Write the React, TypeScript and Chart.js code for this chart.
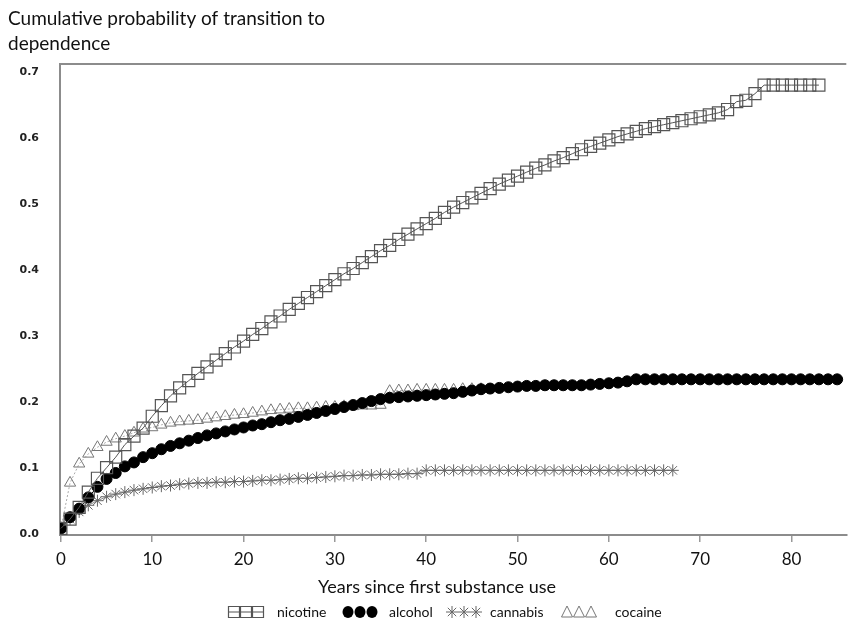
import React, { useEffect, useRef } from 'react';
import { Chart, registerables } from 'chart.js';

Chart.register(...registerables);

const TITLE_LINES = ['Cumulative probability of transition to', 'dependence'];
const X_TITLE = 'Years since first substance use';
const X_TICKS = [0, 10, 20, 30, 40, 50, 60, 70, 80];
const Y_TICKS = [0, 0.1, 0.2, 0.3, 0.4, 0.5, 0.6, 0.7];
const LEGEND_LABELS = ['nicotine', 'alcohol', 'cannabis', 'cocaine'];

// cumulative probability by year since first use (index = year, starting at 0)
const nicotine = [
  0.008, 0.022, 0.040, 0.063, 0.084, 0.100, 0.116, 0.135, 0.148, 0.160,
  0.178, 0.194, 0.209, 0.221, 0.232, 0.243, 0.253, 0.263, 0.273, 0.283,
  0.292, 0.302, 0.311, 0.321, 0.330, 0.340, 0.349, 0.358, 0.367, 0.376,
  0.385, 0.394, 0.402, 0.411, 0.420, 0.429, 0.437, 0.446, 0.454, 0.462,
  0.470, 0.478, 0.487, 0.495, 0.502, 0.509, 0.516, 0.523, 0.530, 0.536,
  0.542, 0.548, 0.554, 0.559, 0.565, 0.570, 0.576, 0.582, 0.587, 0.592,
  0.597, 0.602, 0.606, 0.610, 0.614, 0.617, 0.620, 0.623, 0.626, 0.629,
  0.632, 0.635, 0.638, 0.643, 0.655, 0.657, 0.667, 0.680, 0.680, 0.680,
  0.680, 0.680, 0.680, 0.680,
];
const alcohol = [
  0.008, 0.025, 0.038, 0.055, 0.071, 0.083, 0.092, 0.102, 0.108, 0.116,
  0.122, 0.128, 0.133, 0.137, 0.141, 0.145, 0.149, 0.152, 0.155, 0.158,
  0.161, 0.164, 0.166, 0.169, 0.172, 0.174, 0.177, 0.180, 0.183, 0.186,
  0.189, 0.192, 0.195, 0.198, 0.201, 0.204, 0.206, 0.207, 0.208, 0.209,
  0.210, 0.211, 0.212, 0.213, 0.215, 0.217, 0.219, 0.220, 0.221, 0.222,
  0.223, 0.224, 0.224, 0.225, 0.225, 0.225, 0.225, 0.225, 0.226, 0.227,
  0.228, 0.229, 0.231, 0.234, 0.234, 0.234, 0.234, 0.234, 0.234, 0.234,
  0.234, 0.234, 0.234, 0.234, 0.234, 0.234, 0.234, 0.234, 0.234, 0.234,
  0.234, 0.234, 0.234, 0.234, 0.234, 0.234,
];
const cannabis = [
  0.008, 0.022, 0.033, 0.043, 0.050, 0.056, 0.060, 0.063, 0.066, 0.068,
  0.070, 0.072, 0.073, 0.075, 0.076, 0.077, 0.077, 0.078, 0.078, 0.079,
  0.079, 0.080, 0.081, 0.081, 0.082, 0.083, 0.084, 0.084, 0.085, 0.086,
  0.087, 0.088, 0.088, 0.089, 0.089, 0.090, 0.090, 0.090, 0.091, 0.091,
  0.096, 0.096, 0.096, 0.096, 0.096, 0.096, 0.096, 0.096, 0.096, 0.096,
  0.096, 0.096, 0.096, 0.096, 0.096, 0.096, 0.096, 0.096, 0.096, 0.096,
  0.096, 0.096, 0.096, 0.096, 0.096, 0.096, 0.096, 0.096,
];
const cocaine = [
  0.008, 0.077, 0.106, 0.121, 0.131, 0.139, 0.144, 0.148, 0.153, 0.159,
  0.161, 0.165, 0.168, 0.170, 0.171, 0.172, 0.174, 0.176, 0.178, 0.180,
  0.181, 0.183, 0.185, 0.187, 0.188, 0.189, 0.190, 0.190, 0.191, 0.192,
  0.192, 0.193, 0.193, 0.194, 0.194, 0.195, 0.216, 0.217, 0.217, 0.218,
  0.218, 0.218, 0.218, 0.218, 0.219, 0.219, 0.219,
];

const toPoints = (arr: number[]) => arr.map((v, i) => ({ x: i, y: v }));

const FONT = 'Lato, "Open Sans", sans-serif';

function drawMarker(ctx: CanvasRenderingContext2D, kind: string, x: number, y: number) {
  ctx.save();
  ctx.beginPath();
  if (kind === 'nicotine') {
    ctx.strokeStyle = '#555';
    ctx.lineWidth = 1.2;
    ctx.rect(x - 5.5, y - 5.5, 11, 11);
    ctx.moveTo(x - 5.5, y);
    ctx.lineTo(x + 5.5, y);
    ctx.stroke();
  } else if (kind === 'alcohol') {
    ctx.fillStyle = '#000';
    ctx.ellipse(x, y, 5.5, 6, 0, 0, Math.PI * 2);
    ctx.fill();
  } else if (kind === 'cannabis') {
    ctx.strokeStyle = '#666';
    ctx.lineWidth = 1;
    const r = 6;
    ctx.moveTo(x - r, y); ctx.lineTo(x + r, y);
    ctx.moveTo(x, y - r); ctx.lineTo(x, y + r);
    const d = r * 0.7;
    ctx.moveTo(x - d, y - d); ctx.lineTo(x + d, y + d);
    ctx.moveTo(x - d, y + d); ctx.lineTo(x + d, y - d);
    ctx.stroke();
  } else {
    ctx.strokeStyle = '#777';
    ctx.lineWidth = 1;
    ctx.moveTo(x, y - 6);
    ctx.lineTo(x + 5.5, y + 5);
    ctx.lineTo(x - 5.5, y + 5);
    ctx.closePath();
    ctx.stroke();
  }
  ctx.restore();
}

const decorPlugin = {
  id: 'decor',
  afterDraw(chart: any) {
    const ctx: CanvasRenderingContext2D = chart.ctx;
    const a = chart.chartArea;
    ctx.save();
    // top frame line
    ctx.strokeStyle = '#8c8c8c';
    ctx.lineWidth = 2;
    ctx.beginPath();
    ctx.moveTo(a.left, a.top);
    ctx.lineTo(a.right, a.top);
    ctx.stroke();

    // chart title (two lines, left aligned)
    ctx.fillStyle = '#111';
    ctx.textAlign = 'left';
    ctx.textBaseline = 'middle';
    ctx.font = `19px ${FONT}`;
    ctx.fillText(TITLE_LINES[0], 8, 19);
    ctx.fillText(TITLE_LINES[1], 8, 44);

    // x axis title
    ctx.textAlign = 'center';
    ctx.font = `18px ${FONT}`;
    ctx.fillText(X_TITLE, 437, 587);

    // legend
    const y = 612;
    const markerStarts = [228, 342, 446, 561];
    const textStarts = [277, 389, 490, 615];
    const kinds = ['nicotine', 'alcohol', 'cannabis', 'cocaine'];
    ctx.font = `14px ${FONT}`;
    ctx.textAlign = 'left';
    kinds.forEach((k, i) => {
      for (let j = 0; j < 3; j++) {
        drawMarker(ctx, k, markerStarts[i] + 6 + j * 12, y);
      }
      ctx.fillStyle = '#111';
      ctx.fillText(LEGEND_LABELS[i], textStarts[i], y);
    });
    ctx.restore();
  },
};

export default function App() {
  const canvasRef = useRef<HTMLCanvasElement | null>(null);

  useEffect(() => {
    document.body.style.margin = '0';
    const canvas = canvasRef.current;
    if (!canvas) return;
    const chart = new Chart(canvas, {
      type: 'line',
      data: {
        datasets: [
          {
            label: LEGEND_LABELS[0],
            data: toPoints(nicotine),
            borderColor: '#555',
            borderWidth: 1,
            pointStyle: 'rect',
            pointRadius: 8.5,
            pointBorderColor: '#555',
            pointBackgroundColor: 'rgba(0,0,0,0)',
            pointBorderWidth: 1.2,
            fill: false,
            tension: 0,
          },
          {
            label: LEGEND_LABELS[1],
            data: toPoints(alcohol),
            borderColor: '#000',
            borderWidth: 1,
            pointStyle: 'circle',
            pointRadius: 5.5,
            pointBorderColor: '#000',
            pointBackgroundColor: '#000',
            pointBorderWidth: 1,
            fill: false,
            tension: 0,
          },
          {
            label: LEGEND_LABELS[2],
            data: toPoints(cannabis),
            borderColor: '#888',
            borderWidth: 1,
            pointStyle: 'star',
            pointRadius: 6,
            pointBorderColor: '#666',
            pointBackgroundColor: 'rgba(0,0,0,0)',
            pointBorderWidth: 1,
            fill: false,
            tension: 0,
          },
          {
            label: LEGEND_LABELS[3],
            data: toPoints(cocaine),
            borderColor: '#aaa',
            borderWidth: 1,
            borderDash: [2, 2],
            pointStyle: 'triangle',
            pointRadius: 6.5,
            pointBorderColor: '#777',
            pointBackgroundColor: 'rgba(0,0,0,0)',
            pointBorderWidth: 1,
            fill: false,
            tension: 0,
          },
        ],
      },
      options: {
        animation: false,
        responsive: true,
        maintainAspectRatio: false,
        layout: { padding: { top: 64, left: 0, right: 1, bottom: 0 } },
        plugins: {
          legend: { display: false },
          title: { display: false },
          tooltip: { enabled: false },
        },
        scales: {
          x: {
            type: 'linear',
            min: -0.1,
            max: 86,
            afterBuildTicks: (s: any) => {
              s.ticks = X_TICKS.map((v) => ({ value: v }));
            },
            afterFit: (s: any) => {
              s.height = 86;
            },
            grid: {
              drawOnChartArea: false,
              drawTicks: true,
              tickLength: 7,
              color: '#999',
              lineWidth: 1.5,
            },
            border: { color: '#8c8c8c', width: 2 },
            ticks: {
              autoSkip: false,
              maxRotation: 0,
              padding: 7,
              color: '#111',
              font: { family: FONT, size: 17 },
            },
          },
          y: {
            type: 'linear',
            min: -0.002,
            max: 0.712,
            afterBuildTicks: (s: any) => {
              s.ticks = Y_TICKS.map((v) => ({ value: v }));
            },
            afterFit: (s: any) => {
              s.width = 60;
            },
            grid: { drawOnChartArea: false, drawTicks: false },
            border: { color: '#8c8c8c', width: 2 },
            ticks: {
              padding: 21,
              color: '#222',
              font: { family: '"DejaVu Sans", sans-serif', size: 11, weight: 'bold' },
              callback: (v: any) => Number(v).toFixed(1),
            },
          },
        },
      },
      plugins: [decorPlugin],
    });
    return () => chart.destroy();
  }, []);

  return (
    <div style={{ width: 856, height: 621, position: 'relative' }}>
      <canvas ref={canvasRef} />
    </div>
  );
}
